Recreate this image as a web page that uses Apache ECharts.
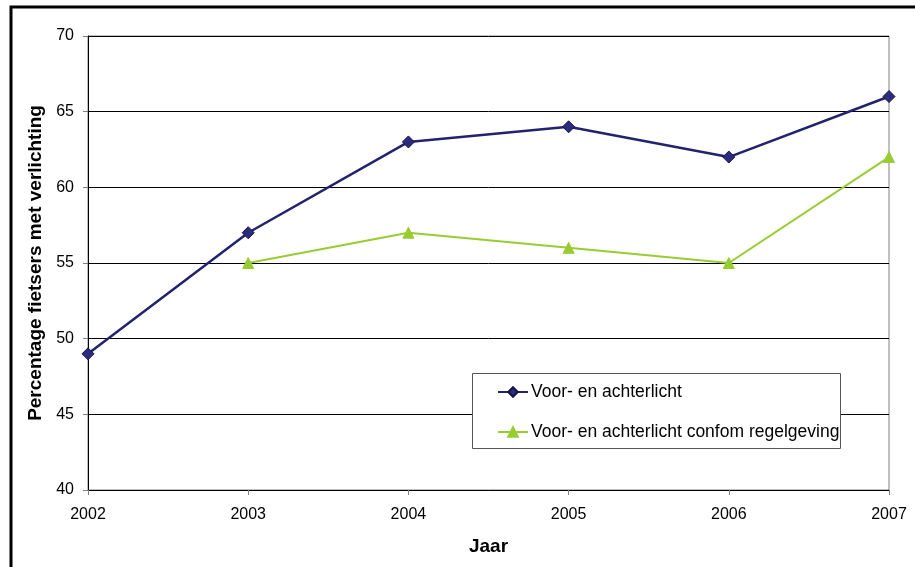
<!DOCTYPE html>
<html>
<head>
<meta charset="utf-8">
<script src="https://cdn.jsdelivr.net/npm/echarts@6/dist/echarts.min.js"></script>
<style>
  html, body { margin: 0; padding: 0; background: #fff; }
  #chart { width: 915px; height: 567px; }
</style>
</head>
<body>
<div id="chart"></div>
<script>
// jaren en percentages
const jaren = ["2002", "2003", "2004", "2005", "2006", "2007"];
const voorAchter = [49, 57, 63, 64, 62, 66];
const regelgeving = [null, 55, 57, 56, 55, 62];
const yTicks = [40, 45, 50, 55, 60, 65, 70];

const myChart = echarts.init(document.getElementById("chart"));
const font = "Liberation Sans, Arial, sans-serif";

const option = {
  animation: false,
  backgroundColor: "#fff",
  textStyle: { fontFamily: font },
  grid: {
    left: 88,
    right: 26,
    top: 36,
    bottom: 77,
    show: true,
    borderColor: "#808080",
    borderWidth: 1,
  },
  graphic: [
    {
      // kader rond de figuur
      type: "rect",
      shape: { x: 11, y: 7, width: 1000, height: 1000 },
      style: { fill: null, stroke: "#000", lineWidth: 3 },
      z: 0,
    },
    {
      // legenda kader
      type: "rect",
      shape: { x: 472.5, y: 373.5, width: 368, height: 75 },
      style: { fill: "#fff", stroke: "#555", lineWidth: 1 },
      z: 3,
    },
  ],
  legend: {
    orient: "vertical",
    left: 497,
    top: 383,
    padding: 0,
    itemGap: 22,
    itemWidth: 30,
    itemHeight: 12,
    textStyle: { fontFamily: font, fontSize: 17.5, color: "#000", padding: [0, 0, 0, -2] },
    z: 5,
    data: ["Voor- en achterlicht", "Voor- en achterlicht confom regelgeving"],
  },
  xAxis: {
    type: "category",
    data: jaren,
    boundaryGap: false,
    name: "Jaar",
    nameLocation: "middle",
    nameGap: 47,
    nameTextStyle: { fontFamily: font, fontSize: 19, fontWeight: "bold", color: "#000" },
    axisLine: { lineStyle: { color: "#000", width: 1 } },
    axisTick: { show: true, length: 5, lineStyle: { color: "#808080" } },
    axisLabel: { fontFamily: font, fontSize: 16, color: "#000", margin: 17 },
    splitLine: { show: false },
  },
  yAxis: {
    type: "value",
    min: yTicks[0],
    max: yTicks[yTicks.length - 1],
    interval: 5,
    name: "Percentage fietsers met verlichting",
    nameLocation: "middle",
    nameGap: 38,
    nameTextStyle: { fontFamily: font, fontSize: 19, fontWeight: "bold", color: "#000" },
    axisLine: { show: true, lineStyle: { color: "#000", width: 1 } },
    axisTick: { show: true, length: 5, lineStyle: { color: "#808080" } },
    axisLabel: { fontFamily: font, fontSize: 16, color: "#000", margin: 14 },
    splitLine: { show: true, lineStyle: { color: "#000", width: 1 } },
  },
  series: [
    {
      name: "Voor- en achterlicht",
      type: "line",
      data: voorAchter,
      symbol: "diamond",
      symbolSize: 12,
      lineStyle: { color: "#22226e", width: 2.5 },
      itemStyle: { color: "#2b2b80", borderColor: "#141440", borderWidth: 1 },
      z: 2,
    },
    {
      name: "Voor- en achterlicht confom regelgeving",
      type: "line",
      data: regelgeving,
      symbol: "triangle",
      symbolSize: 11,
      lineStyle: { color: "#99cc33", width: 2 },
      itemStyle: { color: "#99cc33", borderColor: "#99cc33", borderWidth: 1 },
      z: 2,
    },
  ],
};
myChart.setOption(option);
</script>
</body>
</html>
